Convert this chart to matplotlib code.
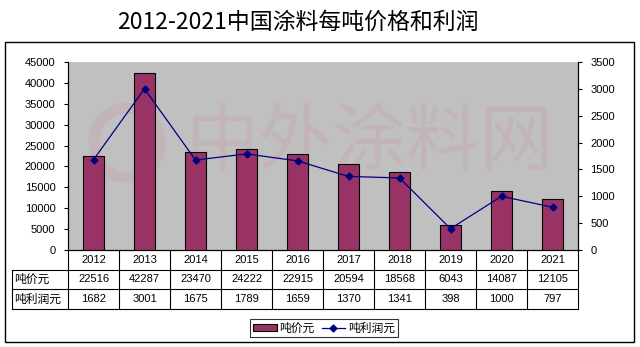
import matplotlib.pyplot as plt
from matplotlib.patches import Rectangle, Ellipse
from matplotlib.lines import Line2D

plt.rcParams['font.family'] = ['Liberation Sans', 'Noto Sans CJK SC', 'DejaVu Sans']

# 数据
years = ['2012', '2013', '2014', '2015', '2016', '2017', '2018', '2019', '2020', '2021']
price = [22516, 42287, 23470, 24222, 22915, 20594, 18568, 6043, 14087, 12105]
profit = [1682, 3001, 1675, 1789, 1659, 1370, 1341, 398, 1000, 797]
price_label = '吨价元'
profit_label = '吨利润元'
title = '2012-2021中国涂料每吨价格和利润'

W, H = 640, 347
fig = plt.figure(figsize=(W / 100, H / 100), dpi=100)


def fx(px):
    return px / W


def fy(py):
    return 1 - py / H


# 外框
fig.patches.append(Rectangle((fx(5), fy(342)), fx(629), (342 - 42) / H,
                             transform=fig.transFigure, fill=False,
                             edgecolor='black', linewidth=1.0))

fig.text(fx(298), fy(22), title, ha='center', va='center', fontsize=16.5,
         family=['Noto Sans CJK SC'])

# 主图区
L, R, T, B = 68, 578, 62, 250
ax = fig.add_axes([fx(L), fy(B), fx(R - L), (B - T) / H])
ax.set_facecolor('#c0c0c0')
x = list(range(len(years)))
ax.bar(x, price, width=0.42, color='#993366', edgecolor='black',
       linewidth=0.8, zorder=3)
ax.set_xlim(-0.5, len(years) - 0.5)
ax.set_ylim(0, 45000)
ax.set_yticks(range(0, 45001, 5000))
ax.set_xticks([])
ax.tick_params(axis='y', labelsize=8, length=3, width=0.8, pad=6)
for s in ax.spines.values():
    s.set_linewidth(0.8)
ax.spines['top'].set_visible(False)

# 水印
ax.text(0.592, 0.57, '中外涂料网', transform=ax.transAxes, ha='center',
        va='center', fontsize=53, color='#e06070', alpha=0.11,
        family=['Noto Sans CJK SC'], zorder=1)
ax.add_patch(Ellipse((0.116, 0.57), 0.13, 0.37, transform=ax.transAxes,
                     fill=False, edgecolor='#e06070', linewidth=8,
                     alpha=0.11, zorder=1))

ax2 = ax.twinx()
ax2.plot(x, profit, color='#000080', linewidth=0.9, marker='D',
         markersize=3.5, zorder=4)
ax2.set_ylim(0, 3500)
ax2.set_yticks(range(0, 3501, 500))
ax2.tick_params(axis='y', labelsize=8, length=3, width=0.8, pad=6)
for s in ax2.spines.values():
    s.set_linewidth(0.8)
ax2.spines['top'].set_visible(False)

# 数据表
TL = 12
unit = (R - L) / len(years)
tab = fig.add_axes([fx(TL), fy(309), fx(R - TL), (309 - B) / H])
xl = -0.5 - (L - TL) / unit
xr = len(years) - 0.5
tab.set_xlim(xl, xr)
tab.set_ylim(0, 3)
tab.axis('off')
lk = dict(color='black', linewidth=0.8, clip_on=False)
# 横线
tab.plot([xl, xr], [2, 2], **lk)
tab.plot([xl, xr], [1, 1], **lk)
tab.plot([xl, xr], [0, 0], **lk)
# 竖线
for i in range(len(years) + 1):
    tab.plot([i - 0.5, i - 0.5], [0, 3], **lk)
tab.plot([xl, xl], [0, 2], **lk)

for i, yr in enumerate(years):
    tab.text(i, 2.5, yr, ha='center', va='center', fontsize=8)
    tab.text(i, 1.5, str(price[i]), ha='center', va='center', fontsize=8)
    tab.text(i, 0.5, str(profit[i]), ha='center', va='center', fontsize=8)
tab.text(xl + 0.05, 1.5, price_label, ha='left', va='center', fontsize=8.5,
         family=['Noto Sans CJK SC'])
tab.text(xl + 0.05, 0.5, profit_label, ha='left', va='center', fontsize=8.5,
         family=['Noto Sans CJK SC'])

# 图例
handles = [Rectangle((0, 0), 1, 1, facecolor='#993366', edgecolor='black',
                     linewidth=0.8),
           Line2D([], [], color='#000080', marker='D', markersize=3.5,
                  linewidth=0.9)]
leg = fig.legend(handles, [price_label, profit_label], loc='center',
                 bbox_to_anchor=(fx(324), fy(328)), ncol=2, frameon=True,
                 fancybox=False, edgecolor='black',
                 prop={'family': ['Noto Sans CJK SC'], 'size': 8.5},
                 handlelength=2.0, handleheight=0.5, handletextpad=0.2,
                 columnspacing=0.6, borderpad=0.25)
leg.get_frame().set_linewidth(0.8)

fig.savefig('out.png', dpi=100, facecolor='white')
